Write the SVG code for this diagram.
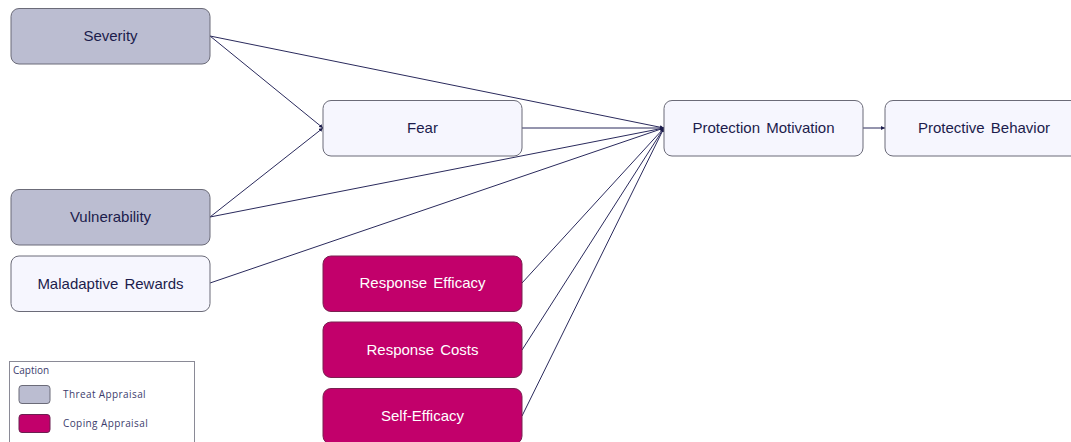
<svg xmlns="http://www.w3.org/2000/svg" width="1071" height="442" viewBox="0 0 1071 442">
  <style>
    .node rect { stroke: #6b6b78; stroke-width: 1; }
    .threat rect { fill: #bbbdd1; }
    .plain rect { fill: #f6f6fe; }
    .coping rect { fill: #c2006b; stroke: #7a2050; }
    .node text { font-family: "Liberation Sans", Arial, sans-serif; font-size: 15px; text-anchor: middle; dominant-baseline: central; fill: #1c1c4c; word-spacing: 2px; }
    .coping text { fill: #ffffff; }
    .edges line { stroke: #2a2a5c; stroke-width: 1; marker-end: url(#arrow); }
    .legend text { font-family: "Open Sans", "Liberation Sans", sans-serif; font-size: 10px; letter-spacing: 0.4px; fill: #3c3c6c; }
  </style>
  <defs>
    <marker id="arrow" viewBox="0 0 6 6" refX="6" refY="3" markerWidth="4" markerHeight="4" orient="auto" markerUnits="userSpaceOnUse">
      <path d="M0,0 L6,3 L0,6 Z" fill="#1c1c4c"/>
    </marker>
  </defs>
  <rect width="1071" height="442" fill="#ffffff"/>

  <g class="edges">
    <line x1="210" y1="36" x2="323" y2="128"/>
    <line x1="210" y1="217" x2="323" y2="128"/>
    <line x1="210" y1="36" x2="664" y2="128"/>
    <line x1="210" y1="217" x2="664" y2="128"/>
    <line x1="210" y1="283" x2="664" y2="128"/>
    <line x1="522" y1="128" x2="664" y2="128"/>
    <line x1="522" y1="283" x2="664" y2="128"/>
    <line x1="522" y1="350" x2="664" y2="128"/>
    <line x1="522" y1="416" x2="664" y2="128"/>
    <line x1="863" y1="128" x2="885" y2="128"/>
  </g>

  <g id="severity" class="node threat">
    <rect x="11" y="8.5" width="199" height="55.5" rx="8"/>
    <text x="110.5" y="35.5">Severity</text>
  </g>
  <g id="vulnerability" class="node threat">
    <rect x="11" y="189.5" width="199" height="55.5" rx="8"/>
    <text x="110.5" y="216.5">Vulnerability</text>
  </g>
  <g id="maladaptive-rewards" class="node plain">
    <rect x="11" y="256" width="199" height="55.5" rx="8"/>
    <text x="110.5" y="283">Maladaptive Rewards</text>
  </g>
  <g id="fear" class="node plain">
    <rect x="323" y="100.5" width="199" height="55.5" rx="8"/>
    <text x="422.5" y="127.5">Fear</text>
  </g>
  <g id="response-efficacy" class="node coping">
    <rect x="323" y="256" width="199" height="55.5" rx="8"/>
    <text x="422.5" y="282.5">Response Efficacy</text>
  </g>
  <g id="response-costs" class="node coping">
    <rect x="323" y="322" width="199" height="55.5" rx="8"/>
    <text x="422.5" y="349">Response Costs</text>
  </g>
  <g id="self-efficacy" class="node coping">
    <rect x="323" y="388.5" width="199" height="55.5" rx="8"/>
    <text x="422.5" y="415">Self-Efficacy</text>
  </g>
  <g id="protection-motivation" class="node plain">
    <rect x="664" y="100.5" width="199" height="55.5" rx="8"/>
    <text x="763.5" y="127.5">Protection Motivation</text>
  </g>
  <g id="protective-behavior" class="node plain">
    <rect x="885" y="100.5" width="199" height="55.5" rx="8"/>
    <text x="984" y="127.5">Protective Behavior</text>
  </g>

  <g id="legend" class="legend">
    <rect x="9.5" y="361.5" width="185" height="90" fill="#ffffff" stroke="#8a8a96" stroke-width="1"/>
    <text x="13" y="373.5" style="letter-spacing:0">Caption</text>
    <rect x="19" y="385.5" width="31" height="18" rx="3" fill="#bbbdd1" stroke="#6b6b78"/>
    <text x="63" y="398">Threat Appraisal</text>
    <rect x="19" y="414.5" width="31" height="18" rx="3" fill="#c2006b" stroke="#6b2050"/>
    <text x="63" y="427">Coping Appraisal</text>
  </g>
</svg>
